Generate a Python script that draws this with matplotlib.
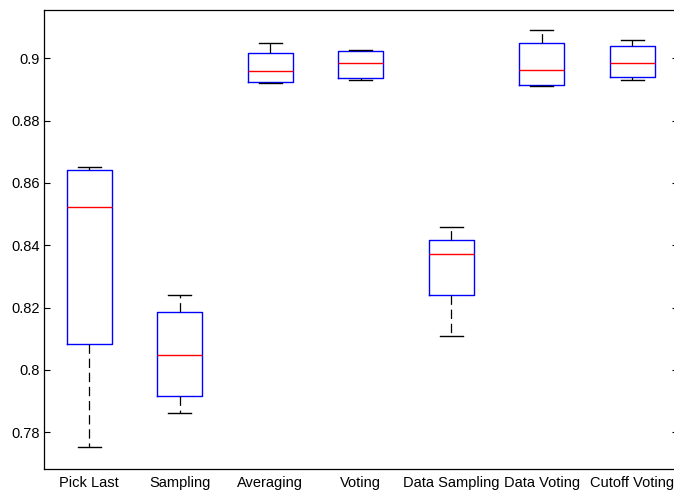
import matplotlib
matplotlib.use("Agg")
import matplotlib.pyplot as plt

methods = ["Pick Last", "Sampling", "Averaging", "Voting",
           "Data Sampling", "Data Voting", "Cutoff Voting"]
whisker_low = [0.7751, 0.7862, 0.8922, 0.8931, 0.8110, 0.8910, 0.8931]
quartile_1 = [0.8084, 0.7916, 0.8924, 0.8938, 0.8240, 0.8913, 0.8939]
medians = [0.8524, 0.8049, 0.8960, 0.8986, 0.8371, 0.8963, 0.8985]
quartile_3 = [0.8641, 0.8186, 0.9018, 0.9024, 0.8417, 0.9050, 0.9038]
whisker_high = [0.8652, 0.8240, 0.9050, 0.9027, 0.8460, 0.9090, 0.9060]
yticks = [0.78, 0.80, 0.82, 0.84, 0.86, 0.88, 0.90]
ytick_labels = ["0.78", "0.8", "0.82", "0.84", "0.86", "0.88", "0.9"]

plt.rcParams["font.family"] = ["Liberation Sans", "DejaVu Sans"]
plt.rcParams["font.size"] = 10.5

W, H = 674, 493
fig = plt.figure(figsize=(W / 100, H / 100), dpi=100)
fig.patch.set_facecolor("white")
ax = fig.add_axes([44 / W, (H - 469) / H, (677.5 - 44) / W, (469 - 10) / H])

stats = []
for name, lo, q1, med, q3, hi in zip(methods, whisker_low, quartile_1,
                                     medians, quartile_3, whisker_high):
    stats.append(dict(label=name, whislo=lo, q1=q1, med=med, q3=q3,
                      whishi=hi, fliers=[]))

positions = list(range(1, len(methods) + 1))
ax.bxp(stats, positions=positions, widths=0.5, showfliers=False,
       boxprops=dict(color="#0000ff", linewidth=1.0),
       medianprops=dict(color="#ff0000", linewidth=1.0),
       whiskerprops=dict(color="black", linewidth=0.9,
                         linestyle=(0, (7.5, 3.8))),
       capprops=dict(color="black", linewidth=1.0),
       capwidths=0.25)

ax.set_xlim(0.5, len(methods) + 0.5)
ax.set_ylim(0.7682, 0.9155)
ax.set_yticks(yticks)
ax.set_yticklabels(ytick_labels)
ax.set_xticks(positions)
ax.set_xticklabels(methods)

ax.tick_params(axis="y", direction="in", length=4.3, width=0.8,
               left=True, right=True, pad=3)
ax.tick_params(axis="x", length=0, pad=5)
for sp in ax.spines.values():
    sp.set_color("black")
    sp.set_linewidth(0.9)

fig.savefig("out.png", dpi=100, facecolor="white")
